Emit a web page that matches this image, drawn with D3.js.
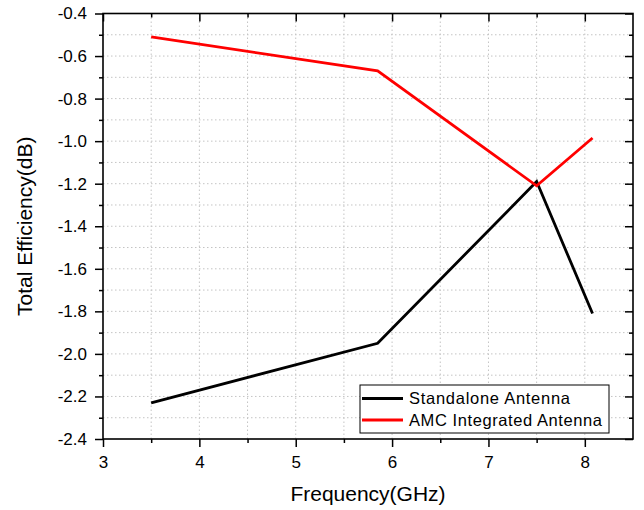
<!DOCTYPE html>
<html>
<head>
<meta charset="utf-8">
<script src="https://cdn.jsdelivr.net/npm/d3@7"></script>
<style>
  body { margin: 0; background: #fff; }
  svg { display: block; font-family: "Liberation Sans", Arial, sans-serif; }
</style>
</head>
<body>
<div id="chart"></div>
<script>
// data
var freq = [3.5, 5.85, 7.5, 8.08];
var standalone = [-2.23, -1.95, -1.19, -1.81];
var amc = [-0.51, -0.67, -1.21, -0.985];
var seriesNames = ["Standalone Antenna", "AMC Integrated Antenna"];
var seriesColors = ["#000000", "#ff0000"];
var xTicks = [3, 4, 5, 6, 7, 8];
var yTicks = [-0.4, -0.6, -0.8, -1.0, -1.2, -1.4, -1.6, -1.8, -2.0, -2.2, -2.4];

var W = 644, H = 510;
var margin = {left: 103, top: 13.5, right: 11, bottom: 71};
var width = W - margin.left - margin.right,
    height = H - margin.top - margin.bottom;

var svg = d3.select("#chart").append("svg")
    .attr("width", W)
    .attr("height", H);

var g = svg.append("g")
    .attr("transform", `translate(${margin.left},${margin.top})`);

var x = d3.scaleLinear().domain([3, 8.5]).range([0, width]);
var y = d3.scaleLinear().domain([-2.4, -0.4]).range([height, 0]);

// grid (major + minor), dotted
var xGrid = d3.range(3.5, 8.5, 0.5);
var yGrid = d3.range(-2.3, -0.45, 0.1);
g.append("g").selectAll("line").data(xGrid).enter().append("line")
    .attr("x1", d => x(d)).attr("x2", d => x(d))
    .attr("y1", 0).attr("y2", height)
    .attr("stroke", "#c4c4c4").attr("stroke-width", 1)
    .attr("stroke-dasharray", "1.5,2.5");
g.append("g").selectAll("line").data(yGrid).enter().append("line")
    .attr("x1", 0).attr("x2", width)
    .attr("y1", d => y(d)).attr("y2", d => y(d))
    .attr("stroke", "#c4c4c4").attr("stroke-width", 1)
    .attr("stroke-dasharray", "1.5,2.5");

// axes
var fmtY = d => d3.format(".1f")(d).replace("\u2212", "-");
var xMinor = d3.range(3.5, 8.5, 1);
var yMinor = d3.range(-2.3, -0.4, 0.2);

function styleAxis(sel) {
    sel.select(".domain").remove();
    sel.selectAll(".tick line").attr("stroke", "#000").attr("stroke-width", 1.5);
    sel.selectAll("text").attr("font-size", 17).attr("fill", "#000")
        .style("font-family", "'Liberation Sans', Arial, sans-serif");
}

g.append("g")
    .attr("transform", `translate(0,${height})`)
    .call(d3.axisBottom(x).tickValues(xTicks).tickSize(8).tickPadding(9).tickFormat(d3.format("d")))
    .call(styleAxis);
g.append("g")
    .attr("transform", `translate(0,${height})`)
    .call(d3.axisBottom(x).tickValues(xMinor).tickSize(4).tickFormat(""))
    .call(styleAxis);
g.append("g")
    .call(d3.axisLeft(y).tickValues(yTicks).tickSize(8).tickPadding(8).tickFormat(fmtY))
    .call(styleAxis);
g.append("g")
    .call(d3.axisLeft(y).tickValues(yMinor).tickSize(4).tickFormat(""))
    .call(styleAxis);
// mirrored ticks on top and right, pointing inward
g.append("g")
    .call(d3.axisTop(x).tickValues(xTicks).tickSize(-8).tickFormat(""))
    .call(styleAxis);
g.append("g")
    .call(d3.axisTop(x).tickValues(xMinor).tickSize(-4).tickFormat(""))
    .call(styleAxis);
g.append("g")
    .attr("transform", `translate(${width},0)`)
    .call(d3.axisRight(y).tickValues(yTicks).tickSize(-8).tickFormat(""))
    .call(styleAxis);
g.append("g")
    .attr("transform", `translate(${width},0)`)
    .call(d3.axisRight(y).tickValues(yMinor).tickSize(-4).tickFormat(""))
    .call(styleAxis);

// frame
g.append("rect")
    .attr("width", width).attr("height", height)
    .attr("fill", "none").attr("stroke", "#000").attr("stroke-width", 1.6);

// lines
var line = d3.line().x(d => x(d[0])).y(d => y(d[1]));
[standalone, amc].forEach(function(vals, i) {
    g.append("path")
        .datum(freq.map((f, j) => [f, vals[j]]))
        .attr("d", line)
        .attr("fill", "none")
        .attr("stroke", seriesColors[i])
        .attr("stroke-width", 2.8)
        .attr("stroke-linejoin", "miter");
});

// legend
var legend = svg.append("g").attr("transform", "translate(360,385)");
legend.append("rect")
    .attr("width", 249).attr("height", 48)
    .attr("fill", "#fff").attr("stroke", "#000").attr("stroke-width", 1);
seriesNames.forEach(function(name, i) {
    var ly = 13.5 + i * 21.5;
    legend.append("line")
        .attr("x1", 2).attr("x2", 43)
        .attr("y1", ly).attr("y2", ly)
        .attr("stroke", seriesColors[i]).attr("stroke-width", 2.8);
    legend.append("text")
        .attr("x", 49).attr("y", ly).attr("dy", "0.35em")
        .attr("font-size", 16.5)
        .attr("textLength", i === 0 ? 161 : 193)
        .text(name);
});

// axis titles
svg.append("text")
    .attr("x", margin.left + width / 2).attr("y", 501)
    .attr("text-anchor", "middle")
    .attr("font-size", 21)
    .text("Frequency(GHz)");
svg.append("text")
    .attr("transform", `translate(32,${margin.top + height / 2}) rotate(-90)`)
    .attr("text-anchor", "middle")
    .attr("font-size", 21)
    .text("Total Efficiency(dB)");
</script>
</body>
</html>
